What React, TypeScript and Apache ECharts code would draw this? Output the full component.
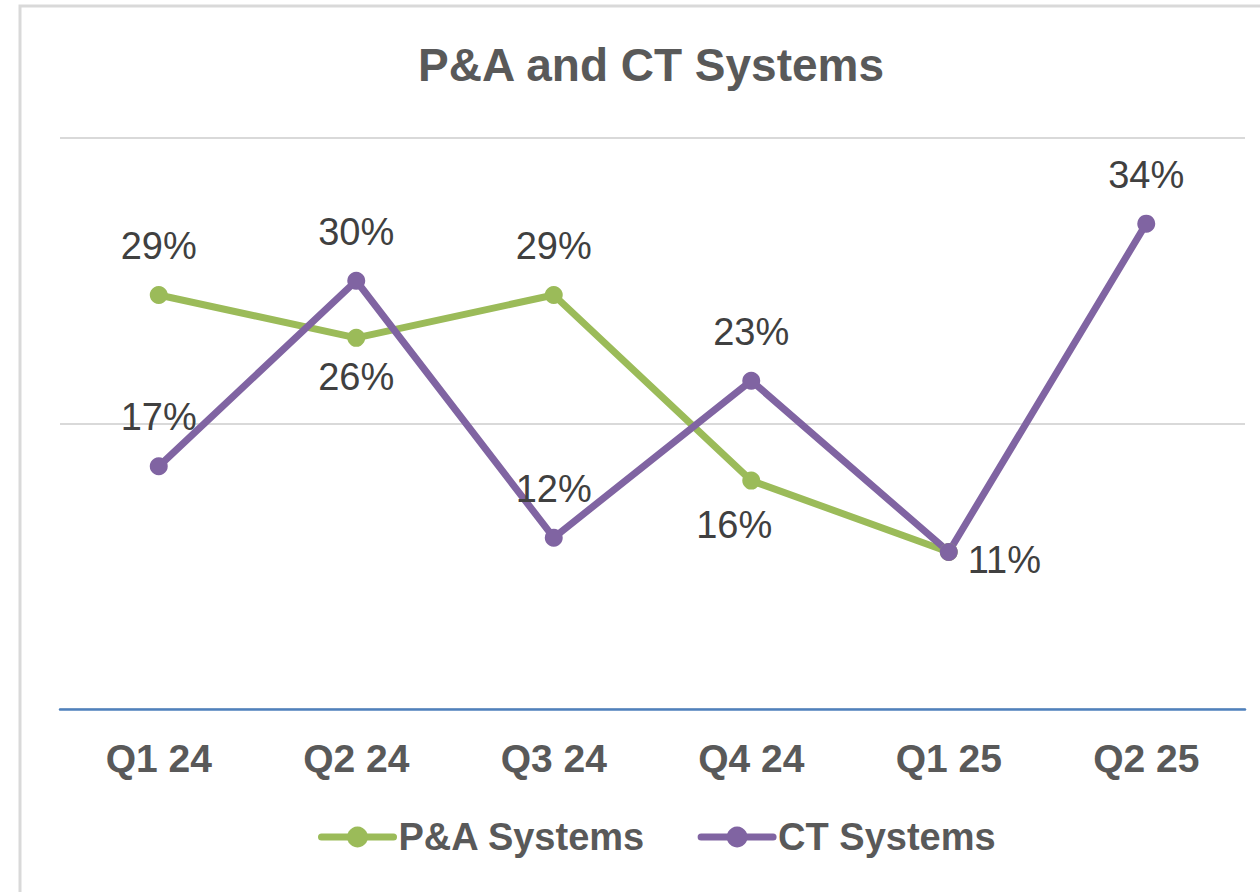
import React, { useEffect, useRef } from "react";
import * as echarts from "echarts";

const categories = ["Q1 24", "Q2 24", "Q3 24", "Q4 24", "Q1 25", "Q2 25"];
const paValues: (number | null)[] = [0.29, 0.26, 0.29, 0.16, 0.11, null];
const ctValues: number[] = [0.17, 0.3, 0.12, 0.23, 0.11, 0.34];
const paLabelPos = ["top", "bottom", "top", "bottomLeft", "none", "none"];
const ctLabelPos = ["top", "top", "top", "top", "right", "top"];

const GREEN = "#9BBB59";
const PURPLE = "#8064A2";
const FONT = "'Liberation Sans', Arial, sans-serif";

function labelFor(pos: string) {
  if (pos === "none") return { show: false };
  if (pos === "top") return { show: true, position: "top", distance: 21 };
  if (pos === "bottom") return { show: true, position: "bottom", distance: 11 };
  if (pos === "bottomLeft") return { show: true, position: "bottom", distance: 16, offset: [-17, 0] };
  return { show: true, position: "right", distance: 10, offset: [0, 8] };
}

export default function App() {
  const ref = useRef<HTMLDivElement>(null);
  useEffect(() => {
    if (!ref.current) return;
    const chart = echarts.init(ref.current, undefined, { renderer: "svg" });
    const fmt = (p: any) => Math.round(p.value * 100) + "%";
    const labelStyle = { fontFamily: FONT, fontSize: 38, color: "#404040", formatter: fmt };
    chart.setOption({
      animation: false,
      backgroundColor: "#ffffff",
      graphic: [
        {
          type: "rect",
          shape: { x: 20, y: 6, width: 1260, height: 900 },
          style: { fill: "none", stroke: "#d9d9d9", lineWidth: 3 },
          silent: true,
        },
      ],
      title: {
        text: "P&A and CT Systems",
        left: 413,
        top: 37,
        textStyle: { fontFamily: FONT, fontSize: 46, fontWeight: "bold", color: "#595959" },
      },
      legend: {
        left: 313,
        top: 813,
        itemWidth: 72,
        itemHeight: 26,
        itemGap: 52,
        data: ["P&A Systems", "CT Systems"],
        lineStyle: { width: 7, cap: "round" },
        textStyle: { fontFamily: FONT, fontSize: 38, fontWeight: "bold", color: "#595959" },
      },
      grid: { left: 60, right: 15, top: 138, bottom: 183 },
      xAxis: {
        type: "category",
        data: categories,
        boundaryGap: true,
        axisLine: { lineStyle: { color: "#4F81BD", width: 2.5 } },
        axisTick: { show: false },
        axisLabel: { fontFamily: FONT, fontSize: 39, fontWeight: "bold", color: "#595959", margin: 30 },
      },
      yAxis: {
        type: "value",
        min: 0,
        max: 0.4,
        interval: 0.2,
        axisLabel: { show: false },
        axisLine: { show: false },
        axisTick: { show: false },
        splitLine: { lineStyle: { color: "#d9d9d9", width: 2 } },
      },
      series: [
        {
          name: "P&A Systems",
          type: "line",
          data: paValues.map((v, i) => ({ value: v, label: { ...labelStyle, ...labelFor(paLabelPos[i]) } })),
          symbol: "circle",
          symbolSize: 18,
          lineStyle: { color: GREEN, width: 7, cap: "round", join: "round" },
          itemStyle: { color: GREEN },
          label: labelStyle,
        },
        {
          name: "CT Systems",
          type: "line",
          data: ctValues.map((v, i) => ({ value: v, label: { ...labelStyle, ...labelFor(ctLabelPos[i]) } })),
          symbol: "circle",
          symbolSize: 18,
          lineStyle: { color: PURPLE, width: 7, cap: "round", join: "round" },
          itemStyle: { color: PURPLE },
          label: labelStyle,
        },
      ],
    });
    return () => chart.dispose();
  }, []);
  return (
    <div
      ref={ref}
      style={{ position: "fixed", left: 0, top: 0, width: 1260, height: 892, background: "#fff" }}
    />
  );
}
